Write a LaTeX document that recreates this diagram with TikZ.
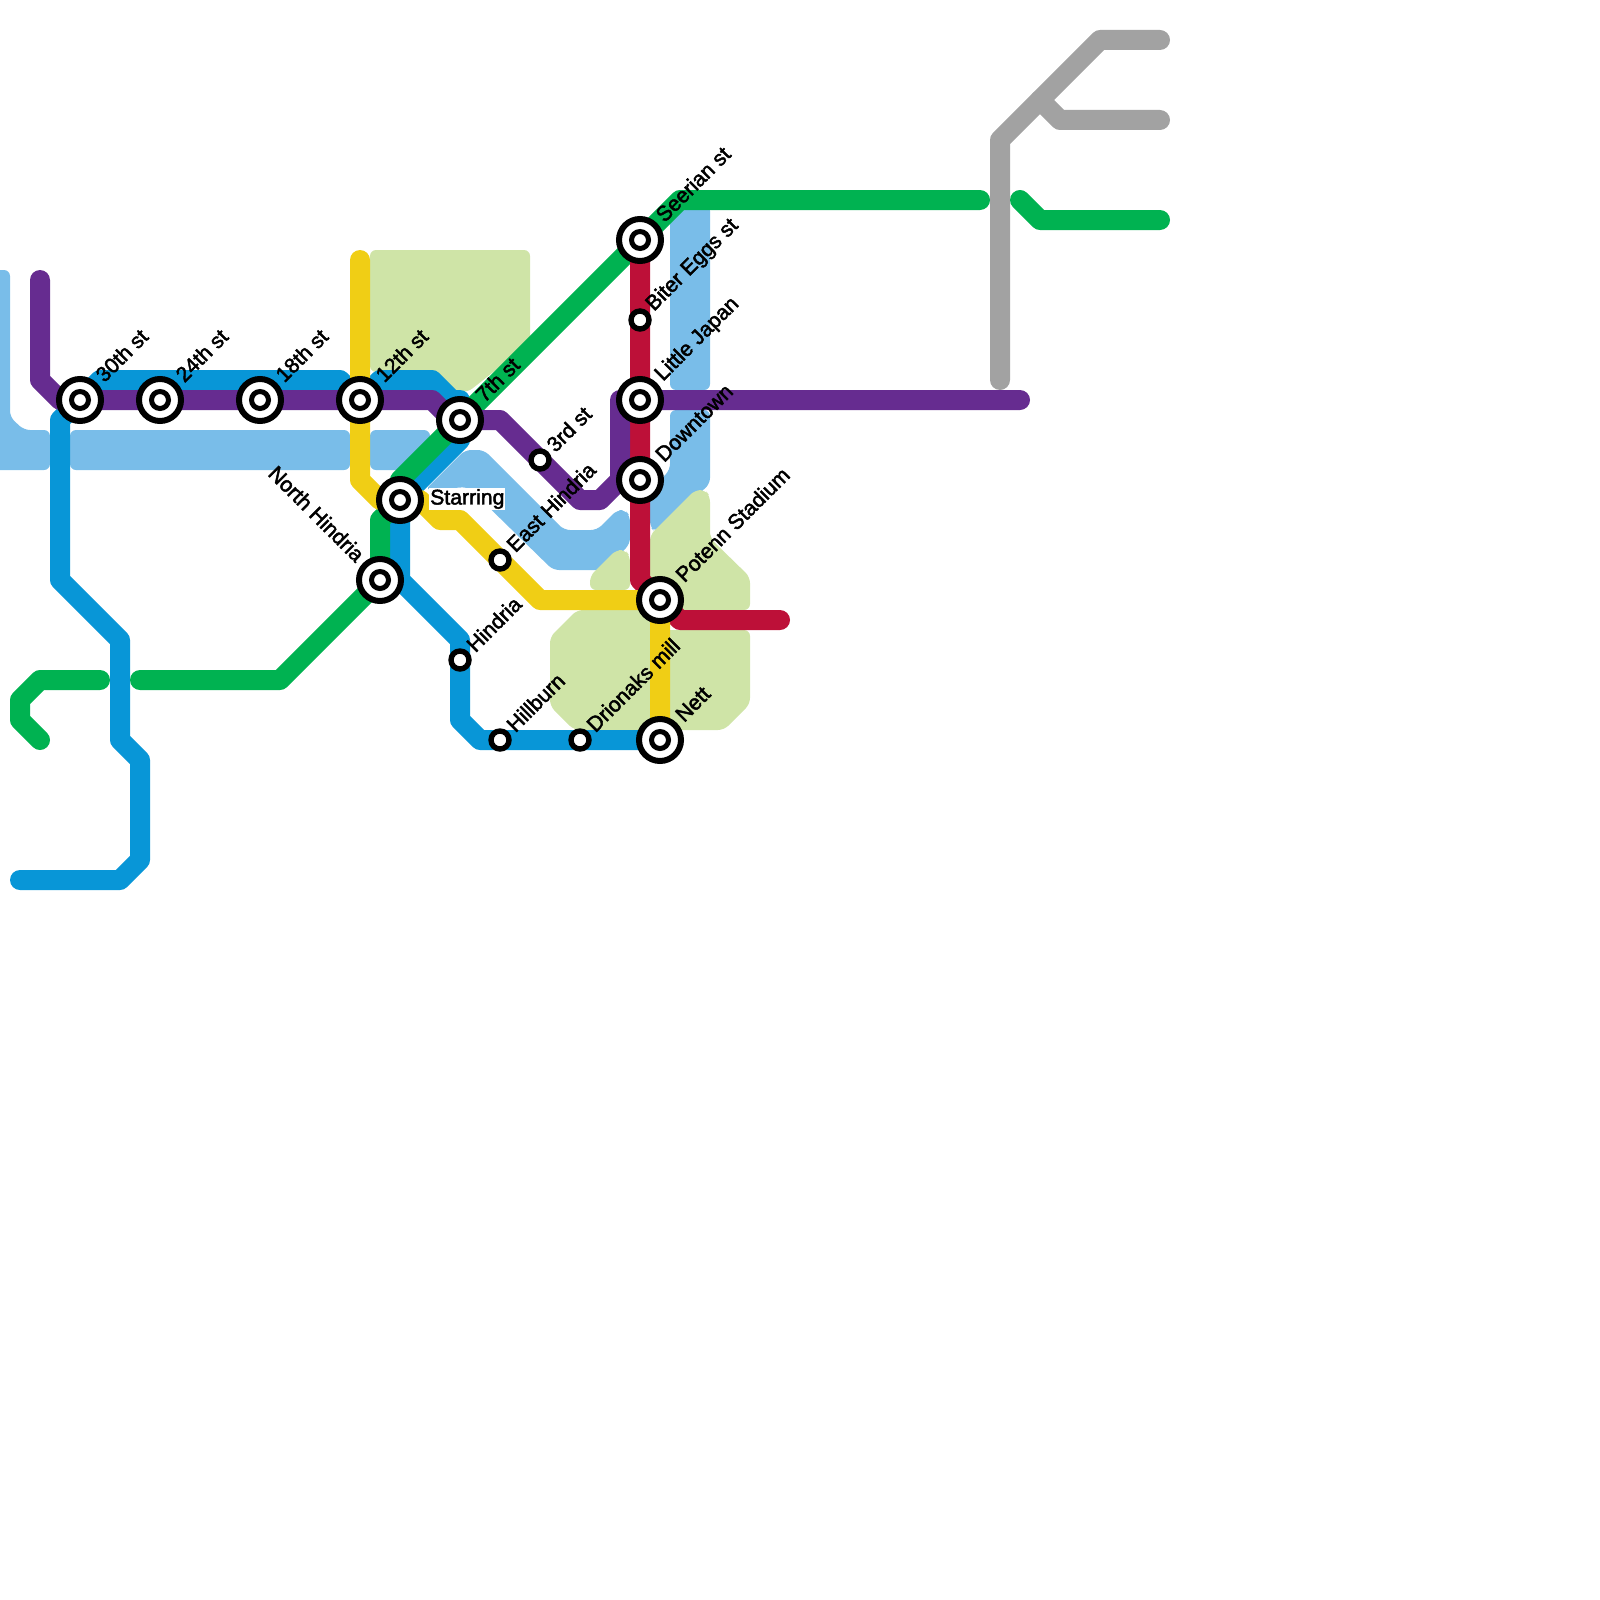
\documentclass[tikz,border=0pt]{standalone}
\usepackage{fontspec}
\usetikzlibrary{calc}
\newfontfamily\labfont[FakeBold=2.2]{Liberation Sans}
\definecolor{mlblue}{HTML}{79BDE9}
\definecolor{mgreen}{HTML}{00B251}
\definecolor{mblue}{HTML}{0896D7}
\definecolor{mpurple}{HTML}{662C90}
\definecolor{mred}{HTML}{BD1038}
\definecolor{myellow}{HTML}{F0CE15}
\definecolor{mgrey}{HTML}{A2A2A2}
\definecolor{mlgreen}{HTML}{CFE4A7}
\tikzset{
  metro/.style={line width=20pt,line cap=round,line join=round},
  water/.style={fill=mlblue,rounded corners=6pt},
  park/.style={fill=mlgreen,rounded corners=6pt},
  bigst/.style={circle,draw=black,fill=white,line width=6pt,minimum size=42pt,inner sep=0pt,
    path picture={\draw[black,line width=5pt] (path picture bounding box.center) circle (8.5pt);}},
  smallst/.style={circle,draw=black,fill=white,line width=5.4pt,minimum size=18pt,inner sep=0pt},
  lab/.style={font=\labfont\fontsize{21.2}{21.2}\selectfont,text=black,inner sep=0pt,anchor=west,rotate=45},
}
\begin{document}
\begin{tikzpicture}[x=1pt,y=-1pt]
\useasboundingbox (0,0) rectangle (1600,1600);
\clip (0,0) rectangle (1600,1600);
% station positions
\coordinate (sA) at (80,400);
\coordinate (sB) at (160,400);
\coordinate (sC) at (260,400);
\coordinate (sD) at (360,400);
\coordinate (sE) at (460,420);
\coordinate (sF) at (400,500);
\coordinate (sG) at (380,580);
\coordinate (sH) at (460,660);
\coordinate (sI) at (500,740);
\coordinate (sJ) at (580,740);
\coordinate (sK) at (660,740);
\coordinate (sL) at (660,600);
\coordinate (sM) at (640,480);
\coordinate (sN) at (640,400);
\coordinate (sO) at (640,320);
\coordinate (sP) at (640,240);
\coordinate (sQ) at (540,460);
\coordinate (sR) at (500,560);
% water
\fill[water] (-20,270) -- (10,270) -- (10,417) -- (24,430) -- (50,430) -- (50,470) -- (-20,470) -- cycle;
\fill[water] (70,430) rectangle (350,470);
\fill[water] (370,430) -- (430,430) -- (430,445) -- (405,470) -- (370,470) -- cycle;
\fill[water] (425,490) -- (465,450) -- (484,450) -- (564,530) -- (597,530) -- (617,510) -- (625,510) -- (630,516) -- (630,544) -- (604,570) -- (553,570) -- (468,487) -- cycle;
\fill[water] (670,205) -- (710,205) -- (710,390) -- (670,390) -- cycle;
\fill[water] (670,410) -- (710,410) -- (710,484) -- (655,532) -- (650,527) -- (650,490) -- (670,470) -- cycle;
% parks
\fill[park] (370,250) -- (530,250) -- (530,343) -- (468,392) -- (457,392) -- (437,372) -- (370,372) -- cycle;
\fill[park] (650,535) -- (695,490) -- (705,490) -- (710,496) -- (710,538) -- (750,577) -- (750,610) -- (650,610) -- cycle;
\fill[park] (590,590) -- (590,576) -- (616,550) -- (625,550) -- (630,556) -- (630,590) -- cycle;
\fill[park] (550,637) -- (577,610) -- (650,610) -- (650,630) -- (750,630) -- (750,704) -- (724,730) -- (574,730) -- (550,706) -- cycle;
% bends
\coordinate (p1) at (40,280);
\coordinate (p2) at (40,380);
\coordinate (p3) at (60,400);
\coordinate (p4) at (432,400);
\coordinate (p4b) at (452,420);
\coordinate (p5) at (500,420);
\coordinate (p6) at (580,500);
\coordinate (p7) at (600,500);
\coordinate (p8) at (620,480);
\coordinate (p9) at (620,400);
\coordinate (p10) at (1020,400);
\coordinate (b1) at (20,880);
\coordinate (b2) at (120,880);
\coordinate (b3) at (140,860);
\coordinate (b4) at (140,760);
\coordinate (b5) at (120,740);
\coordinate (b6) at (120,640);
\coordinate (b7) at (60,580);
\coordinate (b8) at (60,420);
\coordinate (b9) at (100,380);
\coordinate (b10) at (340,380);
\coordinate (b11) at (380,380);
\coordinate (b12) at (432,380);
\coordinate (b12b) at (452,400);
\coordinate (b13) at (460,400);
\coordinate (b14) at (460,440);
\coordinate (b15) at (400,580);
\coordinate (b16) at (460,640);
\coordinate (b17) at (460,720);
\coordinate (b18) at (480,740);
\coordinate (g1) at (40,740);
\coordinate (g2) at (20,720);
\coordinate (g3) at (20,700);
\coordinate (g4) at (40,680);
\coordinate (g5) at (100,680);
\coordinate (g6) at (140,680);
\coordinate (g7) at (280,680);
\coordinate (g8) at (380,520);
\coordinate (g9) at (400,480);
\coordinate (g10) at (680,200);
\coordinate (g11) at (980,200);
\coordinate (g12) at (1020,200);
\coordinate (g13) at (1040,220);
\coordinate (g14) at (1160,220);
\coordinate (h1) at (1000,380);
\coordinate (h2) at (1000,140);
\coordinate (h3) at (1100,40);
\coordinate (h4) at (1160,40);
\coordinate (h5) at (1040,100);
\coordinate (h6) at (1060,120);
\coordinate (h7) at (1160,120);
\coordinate (y1) at (360,260);
\coordinate (y2) at (360,480);
\coordinate (y3) at (380,500);
\coordinate (y4) at (420,500);
\coordinate (y5) at (440,520);
\coordinate (y6) at (460,520);
\coordinate (y7) at (540,600);
\coordinate (r1) at (640,580);
\coordinate (r2) at (680,620);
\coordinate (r3) at (780,620);
% lines
\draw[metro,mgrey] (h1) -- (h2) -- (h3) -- (h4);
\draw[metro,mgrey] (h5) -- (h6) -- (h7);
\draw[metro,mblue] (b1) -- (b2) -- (b3) -- (b4) -- (b5) -- (b6) -- (b7) -- (b8) -- (sA) -- (b9) -- (b10) -- (sD) -- (b11) -- (b12) -- (b12b) -- (b13) -- (b14) -- (sF) -- (b15) -- (b16) -- (sH) -- (b17) -- (b18) -- (sI) -- (sJ) -- (sK);
\draw[metro,mgreen] (g1) -- (g2) -- (g3) -- (g4) -- (g5);
\draw[metro,mgreen] (g6) -- (g7) -- (sG) -- (g8) -- (sF) -- (g9) -- (g10) -- (g11);
\draw[metro,mgreen] (g12) -- (g13) -- (g14);
\draw[metro,mred] (sP) -- (sO) -- (sN) -- (sM) -- (r1) -- (sL) -- (r2) -- (r3);
\draw[metro,mpurple] (p1) -- (p2) -- (p3) -- (sA) -- (sB) -- (sC) -- (sD) -- (p4) -- (p4b) -- (sE) -- (p5) -- (sQ) -- (p6) -- (p7) -- (p8) -- (p9) -- (p10);
\draw[metro,myellow] (y1) -- (sD) -- (y2) -- (y3) -- (y4) -- (y5) -- (y6) -- (sR) -- (y7) -- (sL) -- (sK);
% stations
\foreach \n/\c in {nA/sA,nB/sB,nC/sC,nD/sD,nE/sE,nF/sF,nG/sG,nK/sK,nL/sL,nM/sM,nN/sN,nP/sP}
  \node[bigst] (\n) at (\c) {};
\foreach \n/\c in {nH/sH,nI/sI,nJ/sJ,nO/sO,nQ/sQ,nR/sR}
  \node[smallst] (\n) at (\c) {};
% labels
\node[lab] (tA) at ($(sA)+(19,-22)$) {30th st};
\node[lab] (tB) at ($(sB)+(19,-22)$) {24th st};
\node[lab] (tC) at ($(sC)+(19,-22)$) {18th st};
\node[lab] (tD) at ($(sD)+(19,-22)$) {12th st};
\node[lab] (tE) at ($(sE)+(19,-22)$) {7th st};
\node[lab] (tK) at ($(sK)+(19,-22)$) {Nett};
\node[lab] (tL) at ($(sL)+(19,-22)$) {Potenn Stadium};
\node[lab] (tM) at ($(sM)+(19,-22)$) {Downtown};
\node[lab] (tN) at ($(sN)+(19,-22)$) {Little Japan};
\node[lab] (tP) at ($(sP)+(19,-22)$) {Seerian st};
\node[lab] (tH) at ($(sH)+(10,-12)$) {Hindria};
\node[lab] (tI) at ($(sI)+(10,-12)$) {Hillburn};
\node[lab] (tJ) at ($(sJ)+(10,-12)$) {Drionaks mill};
\node[lab] (tO) at ($(sO)+(10,-12)$) {Biter Eggs st};
\node[lab] (tQ) at ($(sQ)+(10,-12)$) {3rd st};
\node[lab] (tR) at ($(sR)+(10,-12)$) {East Hindria};
\node[lab,anchor=east,rotate=-90] (tG) at ($(sG)+(-19,-22)$) {North Hindria};
\node[font=\labfont\fontsize{21.2}{21.2}\selectfont,fill=white,inner sep=1pt,anchor=west] (tF) at (429,499) {Starring};
\end{tikzpicture}
\end{document}
